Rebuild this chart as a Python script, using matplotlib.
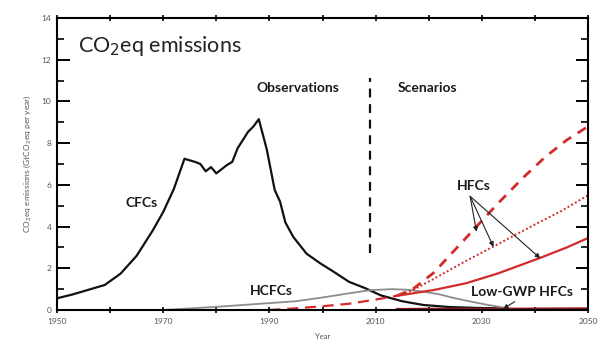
import matplotlib.pyplot as plt
from matplotlib.ticker import MultipleLocator

# CFC emissions (GtCO2eq per year), observations and projection
cfc_years = [1950, 1953, 1955, 1957, 1959, 1962, 1965, 1968, 1970, 1972,
             1974, 1976, 1977, 1978, 1979, 1980, 1982, 1983, 1984, 1986,
             1987, 1988, 1989.5, 1991, 1992, 1993, 1994.5, 1997, 1999.5,
             2002, 2005, 2008, 2011, 2015, 2019, 2024, 2029, 2033]
cfc_vals = [0.56, 0.75, 0.9, 1.05, 1.2, 1.75, 2.6, 3.8, 4.7, 5.8,
            7.25, 7.1, 7.0, 6.65, 6.85, 6.55, 6.95, 7.1, 7.75, 8.55,
            8.8, 9.15, 7.7, 5.75, 5.2, 4.2, 3.5, 2.7, 2.25,
            1.85, 1.35, 1.05, 0.7, 0.42, 0.24, 0.14, 0.1, 0.08]

# HCFC emissions
hcfc_years = [1970, 1980, 1990, 1995, 2000, 2005, 2009, 2013, 2016, 2019,
              2022, 2025, 2028, 2031, 2034]
hcfc_vals = [0.0, 0.15, 0.33, 0.42, 0.6, 0.8, 0.95, 1.0, 0.97, 0.88,
             0.75, 0.56, 0.4, 0.25, 0.12]

# HFC history shared by all scenarios, then three scenario branches
hfc_hist_years = [1990, 1995, 2000, 2005, 2010, 2014]
hfc_hist_vals = [0.0, 0.08, 0.18, 0.3, 0.5, 0.68]
hfc_high_years = [2014, 2017, 2021, 2025, 2029, 2033, 2038, 2042, 2046, 2050]
hfc_high_vals = [0.68, 1.0, 1.8, 2.9, 4.0, 5.1, 6.4, 7.35, 8.15, 8.8]
hfc_mid_years = [2014, 2017, 2021, 2027, 2033, 2040, 2045, 2050]
hfc_mid_vals = [0.68, 0.95, 1.5, 2.35, 3.15, 4.1, 4.75, 5.5]
hfc_low_years = [2014, 2017, 2021, 2027, 2033, 2041, 2046, 2050]
hfc_low_vals = [0.68, 0.8, 0.96, 1.28, 1.75, 2.5, 3.0, 3.45]

# Low-GWP HFC alternatives
lgwp_years = [2014, 2020, 2026, 2032, 2040, 2050]
lgwp_vals = [0.05, 0.06, 0.06, 0.06, 0.07, 0.08]

year_ticks = [1950, 1970, 1990, 2010, 2030, 2050]

RED = '#d42a2a'
DARK_RED = '#8a1c1c'
GREY = '#8c8c8c'

plt.rcParams['font.family'] = ['Lato', 'DejaVu Sans']

fig = plt.figure(figsize=(6.11, 3.5), dpi=100)
ax = fig.add_axes([0.0933, 0.1143, 0.8691, 0.8343])

ax.plot(cfc_years, cfc_vals, color='#111111', lw=1.6)
ax.plot(hcfc_years, hcfc_vals, color=GREY, lw=1.3)
ax.plot(lgwp_years, lgwp_vals, color=DARK_RED, lw=1.5)
ax.plot(hfc_hist_years, hfc_hist_vals, color=RED, lw=1.6, ls=(0, (5, 3)))
ax.plot(hfc_high_years, hfc_high_vals, color=RED, lw=2.0, ls=(0, (3.5, 2.8)))
ax.plot(hfc_mid_years, hfc_mid_vals, color=RED, lw=1.4, ls=(0, (1, 1.2)))
ax.plot(hfc_low_years, hfc_low_vals, color=RED, lw=1.6)

# observations / scenarios divider
ax.plot([2009, 2009], [2.73, 11.1], color='#111111', lw=1.6, ls=(0, (4, 3)))

bold = dict(fontsize=10, fontweight='bold', ha='center', va='center',
            color='#1a1a1a')
ax.text(1954, 12.65, 'CO$_2$eq emissions', fontsize=15.5, va='center',
        ha='left', color='#222222')
ax.text(1995.4, 10.64, 'Observations', **bold)
ax.text(2019.7, 10.64, 'Scenarios', **bold)
ax.text(1966, 5.13, 'CFCs', **bold)
ax.text(1990.3, 0.9, 'HCFCs', **bold)
ax.text(2028.5, 5.94, 'HFCs', **bold)
ax.text(2037.6, 0.86, 'Low-GWP HFCs',
        bbox=dict(facecolor='white', edgecolor='none', pad=0.5), **bold)

arrow = dict(arrowstyle='-|>', color='#222222', lw=0.8,
             mutation_scale=7, shrinkA=0, shrinkB=0)
for tip in [(2029.0, 3.75), (2032.2, 3.03), (2041.0, 2.48)]:
    ax.annotate('', xy=tip, xytext=(2027.8, 5.45), arrowprops=arrow)
ax.annotate('', xy=(2034.0, 0.05), xytext=(2036.2, 0.4), arrowprops=arrow)

ax.set_xlim(1950, 2050)
ax.set_ylim(0, 14)
ax.set_xticks(year_ticks)
ax.xaxis.set_minor_locator(MultipleLocator(10))
ax.yaxis.set_major_locator(MultipleLocator(2))
ax.yaxis.set_minor_locator(MultipleLocator(1))
ax.tick_params(axis='y', which='major', direction='in', length=9, width=1.4,
               right=True, labelsize=6, labelcolor='#555555', pad=4)
ax.tick_params(axis='y', which='minor', direction='in', length=5, width=1.2,
               right=True)
ax.tick_params(axis='x', which='both', direction='inout', length=5, width=1.2,
               top=True, labelsize=6, labelcolor='#555555', pad=3)
for side in ax.spines.values():
    side.set_linewidth(1.5)

ax.set_xlabel('Year', fontsize=5.5, color='#555555', labelpad=6)
ax.set_ylabel('CO$_2$eq emissions (GtCO$_2$eq per year)', fontsize=6,
              color='#555555', labelpad=6)

plt.savefig('out.png', dpi=100)
plt.close(fig)
